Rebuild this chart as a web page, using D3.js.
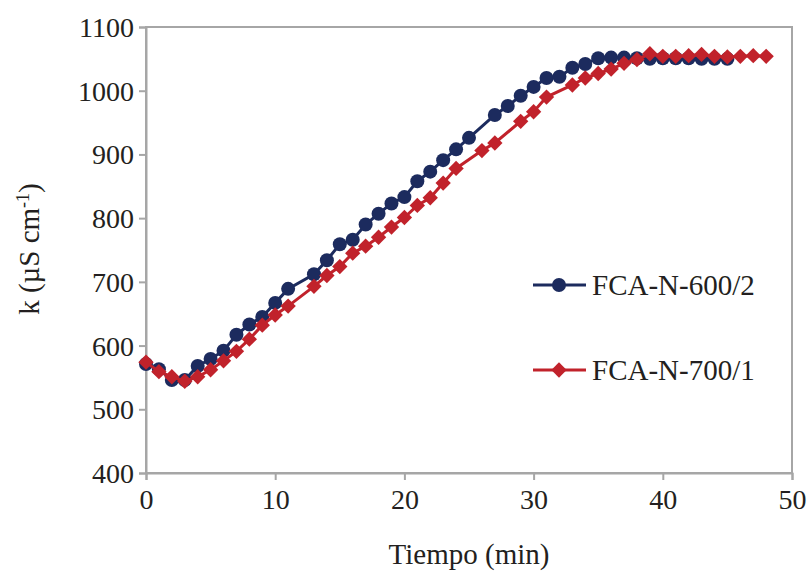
<!DOCTYPE html>
<html><head><meta charset="utf-8">
<script src="https://cdn.jsdelivr.net/npm/d3@7"></script>
<style>body{margin:0;background:#fff}svg{display:block}text{font-family:"Liberation Serif","Times New Roman",serif;fill:#231f20}</style>
</head><body><svg id="c" width="810" height="575"></svg>
<script>
const blueT = [0,1,2,3,4,5,6,7,8,9,10,11,13,14,15,16,17,18,19,20,21,22,23,24,25,27,28,29,30,31,32,33,34,35,36,37,38,39,40,41,42,43,44,45];
const blueK = [571,563,546,546,568,579,592,617,633,645,667,689,712,734,759,766,790,807,823,833,858,873,891,908,926,962,976,992,1006,1020,1022,1036,1042,1051,1052,1052,1051,1050,1051,1051,1051,1050,1050,1050];
const redT = [0,1,2,3,4,5,6,7,8,9,10,11,13,14,15,16,17,18,19,20,21,22,23,24,26,27,29,30,31,33,34,35,36,37,38,39,40,41,42,43,44,45,46,47,48];
const redK = [574,559,551,544,551,562,576,591,610,632,648,662,693,710,724,745,756,770,786,801,820,832,855,878,906,918,952,967,990,1009,1020,1027,1034,1043,1049,1058,1054,1054,1055,1057,1054,1053,1054,1055,1054];
const xTicks = [0,10,20,30,40,50];
const yTicks = [400,500,600,700,800,900,1000,1100];
const seriesNames = ["FCA-N-600/2","FCA-N-700/1"];

const svg = d3.select("#c");
const L=146,R=792,T=27,B=473;
const x = d3.scaleLinear().domain([0,50]).range([L,R]);
const y = d3.scaleLinear().domain([400,1100]).range([B,T]);
const axisCol="#a6a6a6";
const blue="#1c2b5e", red="#c1222b";
const FS=28, FT=29;

svg.append("rect").attr("x",L).attr("y",T).attr("width",R-L).attr("height",B-T)
  .attr("fill","none").attr("stroke",axisCol).attr("stroke-width",2);

const gx = svg.append("g").attr("transform",`translate(0,${B})`)
  .call(d3.axisBottom(x).tickValues(xTicks).tickSize(7).tickPadding(9).tickFormat(d3.format("d")));
const gy = svg.append("g").attr("transform",`translate(${L},0)`)
  .call(d3.axisLeft(y).tickValues(yTicks).tickSize(7).tickPadding(5).tickFormat(d3.format("d")));
[gx,gy].forEach(g=>{
  g.attr("font-family",null).attr("font-size",null);
  g.select(".domain").attr("stroke",axisCol).attr("stroke-width",2);
  g.selectAll(".tick line").attr("stroke",axisCol).attr("stroke-width",2);
  g.selectAll(".tick text").attr("font-size",FS).attr("fill","#231f20");
});
gy.selectAll(".tick text").attr("dy","0.34em");

const line = d3.line().x(d=>x(d[0])).y(d=>y(d[1]));
const blueData = blueT.map((t,i)=>[t,blueK[i]]);
const redData = redT.map((t,i)=>[t,redK[i]]);

svg.append("path").datum(blueData).attr("d",line).attr("fill","none").attr("stroke",blue).attr("stroke-width",3);
svg.append("g").selectAll("circle").data(blueData).join("circle")
  .attr("cx",d=>x(d[0])).attr("cy",d=>y(d[1])).attr("r",7).attr("fill",blue);

svg.append("path").datum(redData).attr("d",line).attr("fill","none").attr("stroke",red).attr("stroke-width",3);
const dia = d3.symbol().type(d3.symbolDiamond2).size(150);
svg.append("g").selectAll("path").data(redData).join("path")
  .attr("transform",d=>`translate(${x(d[0])},${y(d[1])})`).attr("d",dia).attr("fill",red);

// legend
const leg = [{name:seriesNames[0],col:blue,ly:285,mk:"c"},{name:seriesNames[1],col:red,ly:370,mk:"d"}];
leg.forEach(l=>{
  svg.append("line").attr("x1",533).attr("x2",586).attr("y1",l.ly).attr("y2",l.ly).attr("stroke",l.col).attr("stroke-width",3);
  if(l.mk==="c") svg.append("circle").attr("cx",559).attr("cy",l.ly).attr("r",7).attr("fill",l.col);
  else svg.append("path").attr("transform",`translate(559,${l.ly})`).attr("d",dia).attr("fill",l.col);
  svg.append("text").attr("x",592).attr("y",l.ly+10).attr("font-size",FT).text(l.name);
});

svg.append("text").attr("x",(L+R)/2).attr("y",564).attr("text-anchor","middle").attr("font-size",FT).text("Tiempo (min)");
const yt = svg.append("text").attr("transform","translate(39,249) rotate(-90)").attr("text-anchor","middle").attr("font-size",FT);
yt.append("tspan").text("k (µS cm");
yt.append("tspan").attr("baseline-shift","super").attr("font-size",18).text("-1");
yt.append("tspan").text(")");
</script></body></html>
